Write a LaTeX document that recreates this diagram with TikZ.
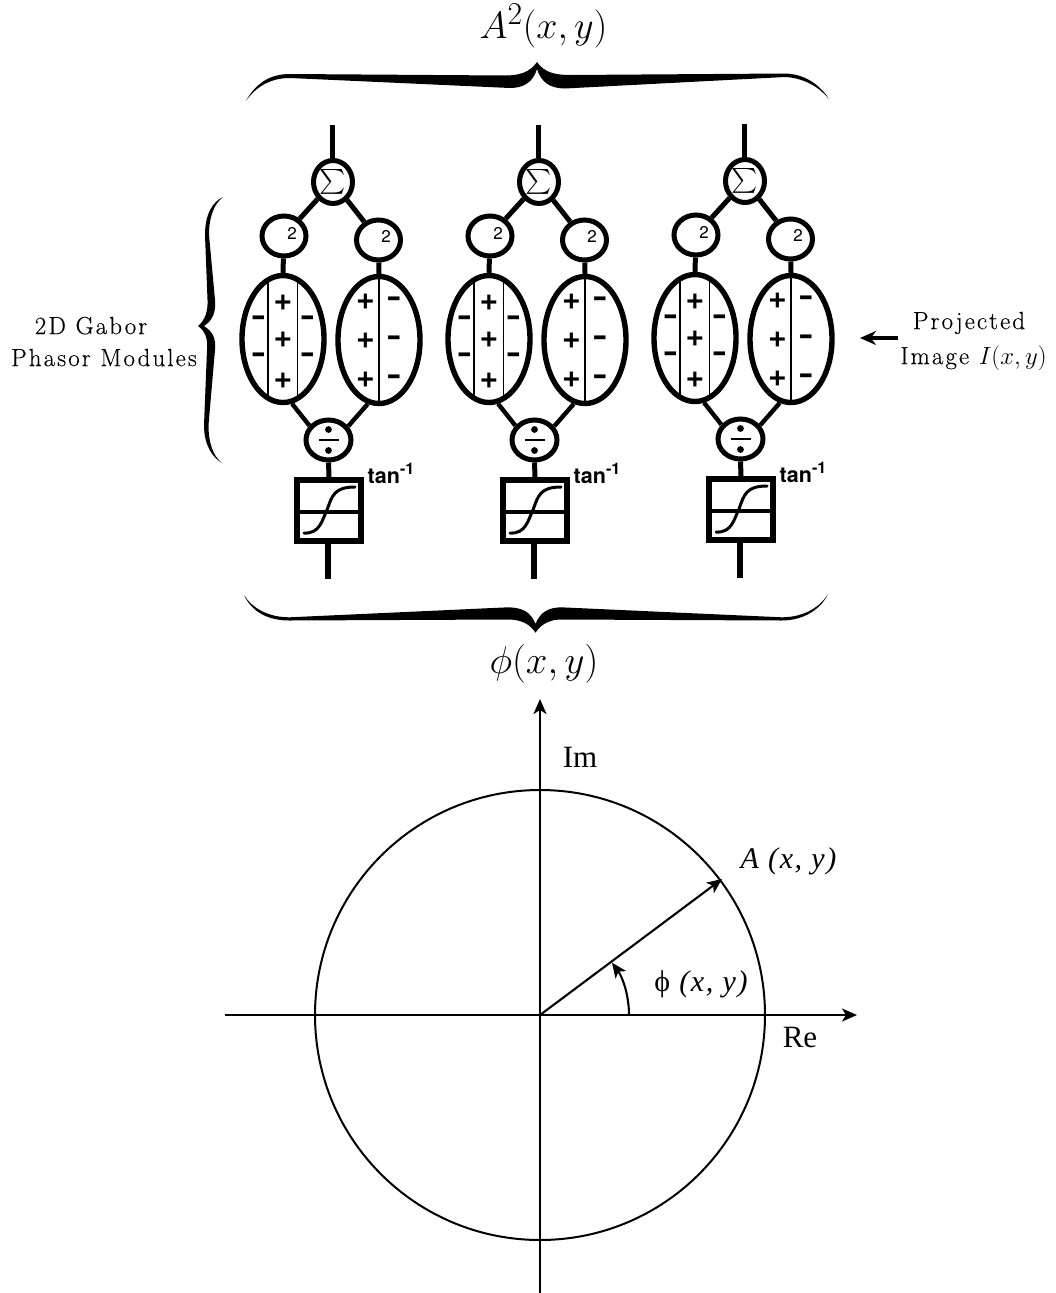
\documentclass[tikz,border=0pt]{standalone}
\usepackage{fontspec}
\usepackage{amsmath}
\usetikzlibrary{shapes.geometric,arrows.meta,calc}
\setmainfont{Latin Modern Roman}
\newfontfamily\heros{TeX Gyre Heros}
\newfontfamily\libser{Liberation Serif}
\tikzset{
  sumcircle/.style={draw,ellipse,line width=5pt,minimum width=39pt,minimum height=43pt,inner sep=0pt},
  sqcircle/.style={draw,ellipse,line width=5pt,minimum width=44pt,minimum height=40pt,inner sep=0pt},
  divcircle/.style={draw,ellipse,line width=5pt,minimum width=45pt,minimum height=40pt,inner sep=0pt},
  lobe/.style={draw,ellipse,line width=5.4pt,minimum width=82pt,minimum height=127pt,inner sep=0pt},
  atanbox/.style={draw,line width=6pt,minimum width=64pt,minimum height=61pt,inner sep=0pt},
  wire/.style={line width=5pt},
  rib/.style={line width=1.2pt},
  sgn/.style={font=\heros\bfseries\fontsize{32}{32}\selectfont,inner sep=0pt},
  sgnm/.style={font=\heros\bfseries\fontsize{28}{28}\selectfont,inner sep=0pt,xscale=1.5},
  capt/.style={font=\fontsize{24.88}{28}\selectfont\addfontfeature{LetterSpace=8.5,FakeBold=0.25},inner sep=0pt},
  plotlab/.style={font=\libser\fontsize{31}{31}\selectfont,inner sep=0pt},
  axis/.style={line width=2.1pt,-{Stealth[length=15pt,width=13pt,inset=4pt]}},
}
\newcommand{\gmodule}[3]{%
\begin{scope}[shift={(#2,#3)}]
  \coordinate (#1top) at (332,125);
  \node[sumcircle] (#1sum) at (333,182) {\fontsize{24}{24}\selectfont$\sum$};
  \node[sqcircle] (#1sql) at (284,236) {};
  \node[sqcircle] (#1sqr) at (378.5,240) {};
  \node[font=\heros\fontsize{17}{17}\selectfont,inner sep=0pt] (#1twol) at (292,233) {2};
  \node[font=\heros\fontsize{17}{17}\selectfont,inner sep=0pt] (#1twor) at (386,236) {2};
  \node[lobe] (#1lobel) at (283,339) {};
  \node[lobe] (#1lober) at (379,340) {};
  \node[divcircle] (#1div) at (328.5,440) {};
  \node[atanbox] (#1box) at (329,510.5) {};
  \coordinate (#1out) at (328,579);
  \draw[wire] (#1top) -- (#1sum.north -| #1top);
  \draw[wire] (#1sum) -- (#1sql);
  \draw[wire] (#1sum) -- (#1sqr);
  \draw[wire] (#1sql) -- (#1lobel.north);
  \draw[wire] (#1sqr) -- (#1lober.north);
  \draw[wire,line width=4.4pt] (#1lobel.-82) -- (#1div.143);
  \draw[wire,line width=4.4pt] (#1lober.-100) -- (#1div.35);
  \draw[wire] (#1div.south) -- (#1box.north);
  \draw[wire,line width=5.4pt] (#1box.south -| #1out) -- (#1out);
  \draw[line width=3.4pt] ($(#1box.west)+(0,1.5)$) -- ($(#1box.east)+(0,1.5)$);
  \draw[line width=3pt,line cap=round] (304,533) .. controls (320,534) and (322,520) .. (327,510) .. controls (332,496) and (334,487) .. (355,487);
  \draw[rib] (268,279) -- (268,399);
  \draw[rib] (297.5,279) -- (297.5,399);
  \draw[rib] (379,276) -- (379,404);
  \node[sgn] at (283,303) {+};
  \node[sgn] at (283,340) {+};
  \node[sgn] at (283,381) {+};
  \node[sgnm] at (258.5,321) {-};
  \node[sgnm] at (258.5,358) {-};
  \node[sgnm] at (307.5,321) {-};
  \node[sgnm] at (307.5,358) {-};
  \node[sgn] at (365.5,302) {+};
  \node[sgn] at (365.5,341) {+};
  \node[sgn] at (365.5,380) {+};
  \node[sgnm] at (394,302) {-};
  \node[sgnm] at (394,341) {-};
  \node[sgnm] at (394,380) {-};
  \fill (#1div.center)+(0,-10.5) circle (3.4pt);
  \fill (#1div.center)+(0,10.5) circle (3.4pt);
  \draw[line width=2.6pt] ($(#1div.center)+(-10,0)$) -- ($(#1div.center)+(10,0)$);
  \node[anchor=base west,font=\heros\bfseries\fontsize{21.5}{21.5}\selectfont,inner sep=0pt] (#1tan) at (367.5,483) {tan\raisebox{9pt}{\fontsize{16}{16}\selectfont -1}};
\end{scope}}
\begin{document}
\begin{tikzpicture}[x=1pt,y=-1pt]
\useasboundingbox (0,0) rectangle (1055,1293);
\fill[white] (0,0) rectangle (1055,1293);
\gmodule{a}{0}{0}
\gmodule{b}{206}{0}
\gmodule{c}{412}{-1}
% braces
\fill (246,100.7) .. controls (255,85) and (268,74) .. (290,74) -- (505,75.5)
  .. controls (520,75.5) and (530,72) .. (537,62) .. controls (544,72) and (554,75) .. (570,75)
  -- (785,73.5) .. controls (805,74) and (820,85) .. (829,99)
  .. controls (820,88) and (805,78) .. (785,77) -- (565,88.5)
  .. controls (550,88.5) and (541,82) .. (537,69) .. controls (533,82) and (524,88) .. (510,88)
  -- (290,78) .. controls (270,78) and (256,87) .. (246,100.7) -- cycle;
\fill (244,595) .. controls (252,608) and (268,617.3) .. (289.5,617.3) -- (508,607.3)
  .. controls (522,607.5) and (531,612) .. (535.5,624) .. controls (540,612) and (549,607.5) .. (561,607.3)
  -- (781.6,617.3) .. controls (803,617.3) and (819,608) .. (828,594.3)
  .. controls (820,610) and (803,620.5) .. (781.6,620.5) -- (561,619.5)
  .. controls (550,619.5) and (541,624) .. (535.5,632.7) .. controls (530,624) and (521,619.5) .. (508,619.5)
  -- (289.5,620.5) .. controls (268,620.5) and (252,612) .. (244,595) -- cycle;
\fill (223,197) .. controls (212,202) and (205,215) .. (205,235) -- (207.5,300)
  .. controls (208,312) and (205,320) .. (198,326) .. controls (205,331) and (208,338) .. (207,350)
  -- (204,425) .. controls (204,445) and (212,457) .. (222,463)
  .. controls (213,456) and (208.5,443) .. (208.5,425) -- (215,350)
  .. controls (216,338) and (213,332) .. (204,326) .. controls (213,320) and (216,312) .. (215,300)
  -- (209,235) .. controls (209,217) and (214,204) .. (223,197) -- cycle;
% captions
\node[font=\fontsize{24.88}{28}\selectfont,inner sep=0pt,scale=1.53] (amp) at (543.5,26) {$A^2(x,y)$};
\node[font=\fontsize{24.88}{28}\selectfont,inner sep=0pt,scale=1.56] (phs) at (544,664) {$\phi(x,y)$};
\node[capt,align=center] (gab) at (104,341.5) {\hspace*{-26pt}2D Gabor\\[4pt]Phasor Modules};
\node[capt,anchor=center] (proj) at (969,323) {Projected};
\node[capt,anchor=center] (imgl) at (973.5,358) {Image $I(x,y)$};
\coordinate (arrs) at (898,338);
\coordinate (arre) at (860,338);
\draw[line width=3.8pt,-{Stealth[length=16pt,width=14pt]}] (arrs) -- (arre);
% phasor plot
\coordinate (O) at (540,1015);
\coordinate (ybot) at (540,1293);
\coordinate (ytop) at (540,699);
\coordinate (xl) at (225,1015);
\coordinate (xr) at (857,1015);
\coordinate (P) at (722,879);
\draw[line width=2pt] (O) circle (225);
\draw[axis] (ybot) -- (ytop);
\draw[axis] (xl) -- (xr);
\draw[axis] (O) -- (P);
\draw[axis] (629,1015) arc[start angle=0,end angle=-36,radius=89];
\node[plotlab] (im) at (580,757) {Im};
\node[plotlab] (re) at (800,1037) {Re};
\node[plotlab,font=\libser\itshape\fontsize{30}{30}\selectfont\addfontfeature{LetterSpace=5.5}] (alab) at (788.5,861) {A (x, y)};
\node[plotlab,font=\libser\fontsize{30}{30}\selectfont\addfontfeature{LetterSpace=5.5}] (plab) at (701,984) {ϕ \itshape (x, y)};
\end{tikzpicture}
\end{document}
